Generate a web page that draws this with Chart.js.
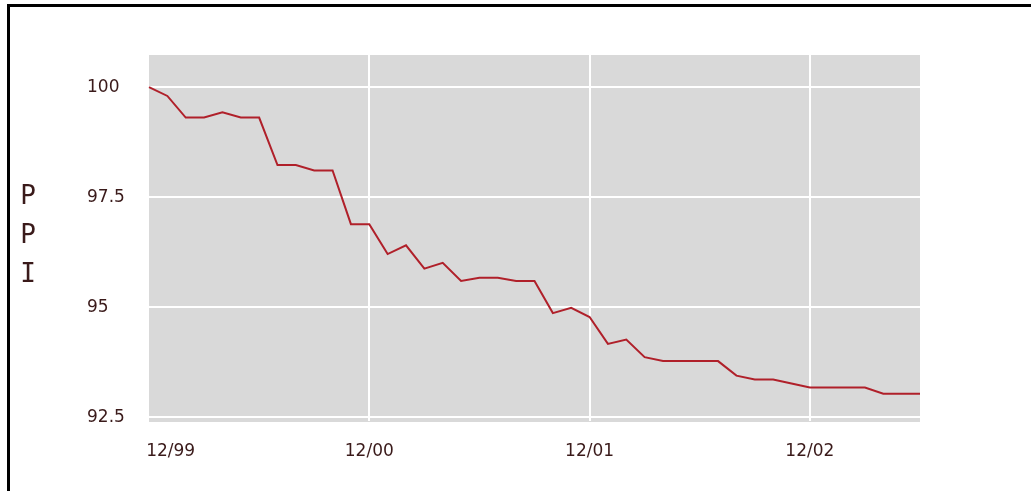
<!DOCTYPE html>
<html>
<head>
<meta charset="utf-8">
<script src="https://cdn.jsdelivr.net/npm/chart.js@4.4.1/dist/chart.umd.min.js"></script>
<style>
  html, body { margin: 0; padding: 0; background: #fff; }
  #wrap { position: relative; width: 1031px; height: 491px; }
</style>
</head>
<body>
<div id="wrap"><canvas id="ppiChart" width="1031" height="491"></canvas></div>
<script>
// Monthly PPI index, 12/99 = 100
const months = [
    '12/99', '1/00', '2/00', '3/00', '4/00', '5/00', '6/00', '7/00', '8/00', '9/00', '10/00', '11/00',
    '12/00', '1/01', '2/01', '3/01', '4/01', '5/01', '6/01', '7/01', '8/01', '9/01', '10/01', '11/01',
    '12/01', '1/02', '2/02', '3/02', '4/02', '5/02', '6/02', '7/02', '8/02', '9/02', '10/02', '11/02',
    '12/02', '1/03', '2/03', '3/03', '4/03', '5/03', '6/03'
];
const ppiValues = [
    100.0, 99.8, 99.31, 99.31, 99.43, 99.31, 99.31, 98.23, 98.23, 98.11, 98.11, 96.89,
    96.89, 96.21, 96.41, 95.88, 96.01, 95.6, 95.67, 95.67, 95.6, 95.6, 94.87, 94.99,
    94.78, 94.17, 94.27, 93.87, 93.78, 93.78, 93.78, 93.78, 93.45, 93.36, 93.36, 93.27,
    93.18, 93.18, 93.18, 93.18, 93.04, 93.04, 93.04
];
const xTickLabels = ['12/99', '12/00', '12/01', '12/02'];
const yTickValues = [92.5, 95, 97.5, 100];
const yTickLabels = ['92.5', '95', '97.5', '100'];
const axisTitle = ['P', 'P', 'I'];

const textColor = '#3a1a1a';
const fontFamily = '"DejaVu Sans", sans-serif';

// grey plot background + frame + stacked axis title
const decor = {
    id: 'decor',
    beforeDraw(chart) {
        const { ctx, chartArea: a } = chart;
        ctx.save();
        ctx.fillStyle = '#d9d9d9';
        ctx.fillRect(a.left, a.top, a.right - a.left, a.bottom - a.top + 1);
        ctx.restore();
    },
    afterDraw(chart) {
        const ctx = chart.ctx;
        ctx.save();
        ctx.fillStyle = '#000';
        ctx.fillRect(7, 4, 3, 487);
        ctx.fillRect(7, 4, 1024, 3);
        ctx.fillStyle = textColor;
        ctx.font = '26px "DejaVu Sans Mono", monospace';
        ctx.textAlign = 'center';
        ctx.textBaseline = 'middle';
        axisTitle.forEach((ch, i) => ctx.fillText(ch, 28, 197 + i * 39));
        ctx.restore();
    }
};

new Chart(document.getElementById('ppiChart'), {
    type: 'line',
    data: {
        labels: months,
        datasets: [{
            data: ppiValues,
            borderColor: '#b0202a',
            borderWidth: 2,
            pointRadius: 0,
            tension: 0,
            fill: false
        }]
    },
    options: {
        responsive: false,
        animation: false,
        layout: { padding: { left: 87, right: 111, top: 55, bottom: 0 } },
        plugins: { legend: { display: false }, tooltip: { enabled: false } },
        scales: {
            x: {
                type: 'category',
                offset: false,
                afterFit(scale) { scale.height = 70; },
                border: { display: false },
                grid: {
                    drawTicks: false,
                    lineWidth: 2,
                    color: c => (c.index > 0 && xTickLabels.includes(months[c.index])) ? '#ffffff' : 'rgba(0,0,0,0)'
                },
                ticks: {
                    autoSkip: false,
                    maxRotation: 0,
                    padding: 20,
                    color: textColor,
                    font: { family: fontFamily, size: 17 },
                    callback: function (v, i) {
                        if (!xTickLabels.includes(months[i])) return '';
                        // first label sits just inside the plot edge
                        return i === 0 ? '\u2007\u2007\u2007\u2007' + months[i] : months[i];
                    }
                }
            },
            y: {
                min: 92.42,
                max: 100.73,
                afterFit(scale) { scale.width = 62; },
                afterBuildTicks(scale) { scale.ticks = yTickValues.map(v => ({ value: v })); },
                border: { display: false },
                grid: { drawTicks: false, lineWidth: 2, color: '#ffffff' },
                ticks: {
                    crossAlign: 'far',
                    color: textColor,
                    font: { family: fontFamily, size: 17 },
                    callback: v => yTickLabels[yTickValues.indexOf(v)]
                }
            }
        }
    },
    plugins: [decor]
});
</script>
</body>
</html>
